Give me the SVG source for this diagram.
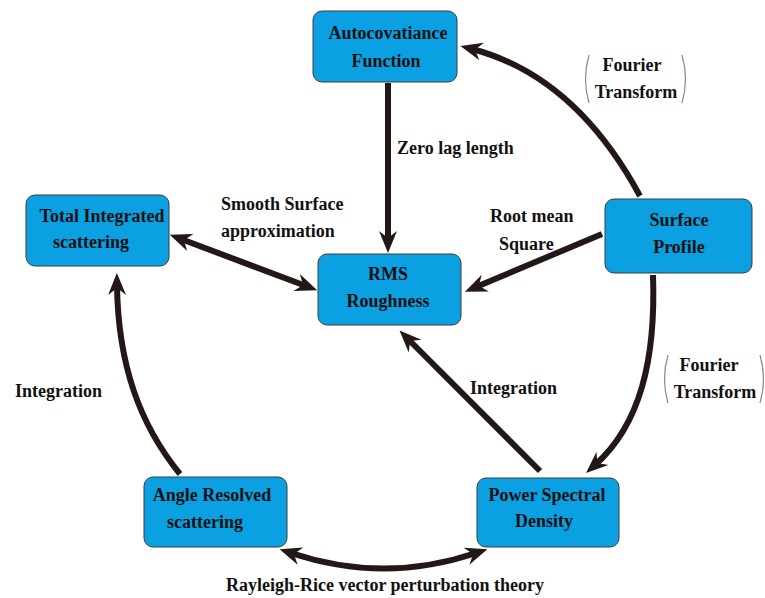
<svg xmlns="http://www.w3.org/2000/svg" width="765" height="598" viewBox="0 0 765 598">
<style>
.box{fill:#0aa0e2;stroke:#3c3c3c;stroke-width:1}
.t{font-family:"Liberation Serif","Times New Roman",serif;font-weight:bold;font-size:18px;fill:#111}
.m{text-anchor:middle}
.c{fill:none;stroke:#231815;stroke-width:6}
.br{fill:none;stroke:#8a8a8a;stroke-width:1.2}
</style>
<defs>
<marker id="ah" viewBox="-24 -11 26 22" markerUnits="userSpaceOnUse" markerWidth="26" markerHeight="22" refX="-12" refY="0" orient="auto-start-reverse">
<path d="M0,0 L-22,-9 L-15,0 L-22,9 Z" fill="#231815"/>
</marker>
</defs>
<rect width="765" height="598" fill="#fff"/>
<g id="connectors">
<path class="c" d="M640,196 Q575,76 472,49" marker-end="url(#ah)"/>
<path class="c" d="M388,83 L388,241" marker-end="url(#ah)"/>
<path class="c" d="M602,234 L476,287" marker-end="url(#ah)"/>
<path class="c" d="M181,239 L306,286" marker-start="url(#ah)" marker-end="url(#ah)"/>
<path class="c" d="M653,275 C656,360 640,425 595,465" marker-end="url(#ah)"/>
<path class="c" d="M540,471 L408,339" marker-end="url(#ah)"/>
<path class="c" d="M180,474 C140,425 118,365 117,285" marker-end="url(#ah)"/>
<path class="c" d="M291,553 Q384,584 476,553" marker-start="url(#ah)" marker-end="url(#ah)"/>
</g>
<g id="autocov">
<rect class="box" x="313" y="11" width="144" height="71" rx="9"/>
<text class="t m" x="388" y="39">Autocovatiance</text>
<text class="t m" x="386" y="67">Function</text>
</g>
<g id="surface">
<rect class="box" x="605" y="199" width="147" height="74" rx="9"/>
<text class="t m" x="679" y="226">Surface</text>
<text class="t m" x="679" y="253">Profile</text>
</g>
<g id="tis">
<rect class="box" x="26" y="195" width="143" height="71" rx="9"/>
<text class="t m" x="102" y="222">Total Integrated</text>
<text class="t m" x="91" y="248">scattering</text>
</g>
<g id="rms">
<rect class="box" x="318" y="254" width="143" height="71" rx="9"/>
<text class="t m" x="388" y="280">RMS</text>
<text class="t m" x="388" y="307">Roughness</text>
</g>
<g id="ars">
<rect class="box" x="144" y="477" width="143" height="70" rx="9"/>
<text class="t m" x="212" y="501">Angle Resolved</text>
<text class="t m" x="205" y="528">scattering</text>
</g>
<g id="psd">
<rect class="box" x="477" y="478" width="142" height="69" rx="9"/>
<text class="t m" x="547" y="501">Power Spectral</text>
<text class="t m" x="544" y="527">Density</text>
</g>
<g id="labels">
<text class="t" x="397" y="154">Zero lag length</text>
<text class="t" x="221" y="210">Smooth Surface</text>
<text class="t" x="221" y="237">approximation</text>
<text class="t" x="490" y="222">Root mean</text>
<text class="t" x="499" y="250">Square</text>
<text class="t m" x="632" y="71">Fourier</text>
<text class="t m" x="636" y="98">Transform</text>
<path class="br" d="M589,55 Q582,79 589,103"/>
<path class="br" d="M682,55 Q689,79 682,103"/>
<text class="t m" x="709" y="371">Fourier</text>
<text class="t m" x="715" y="398">Transform</text>
<path class="br" d="M668,355 Q661,379 668,403"/>
<path class="br" d="M760,355 Q767,379 760,403"/>
<text class="t" x="15" y="397">Integration</text>
<text class="t" x="470" y="394">Integration</text>
<text class="t m" x="385" y="591">Rayleigh-Rice vector perturbation theory</text>
</g>
</svg>
